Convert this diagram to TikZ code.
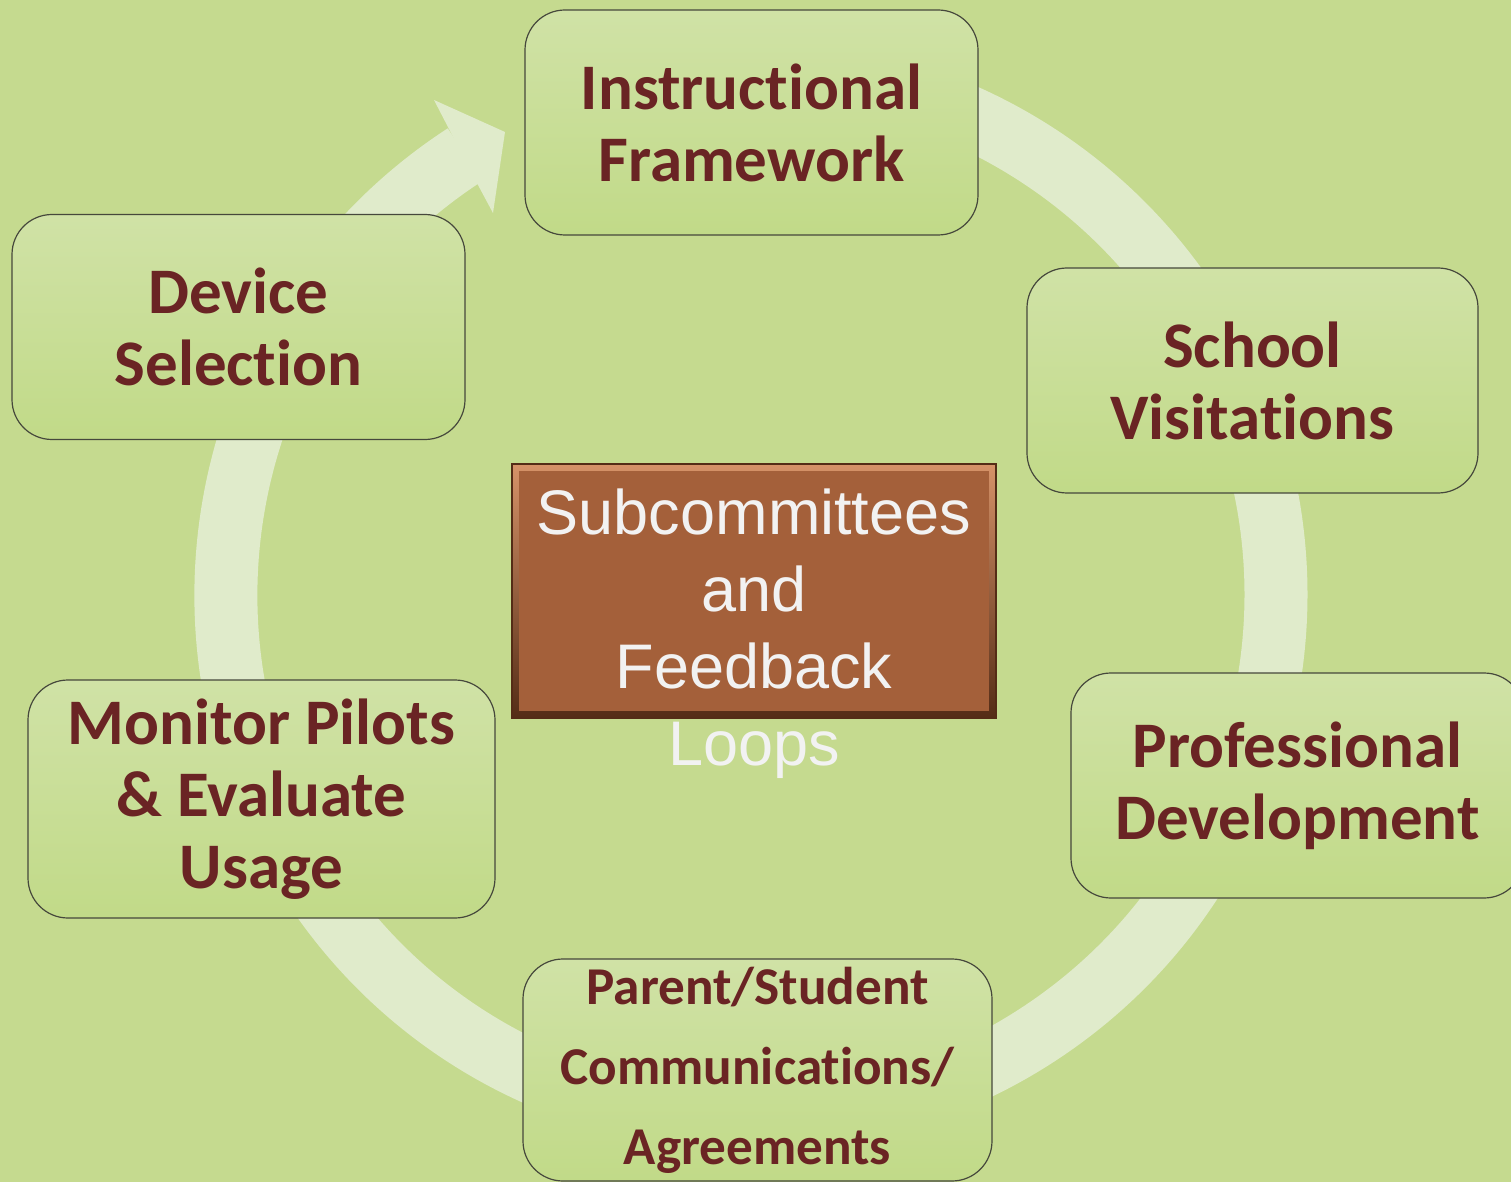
\documentclass[tikz,border=0pt]{standalone}
\usepackage{fontspec}
\setmainfont{Carlito}[Ligatures=NoCommon]
\newfontfamily\arialfont{Liberation Sans}
\usetikzlibrary{positioning}

\definecolor{bggreen}{RGB}{197,218,143}
\definecolor{ringcol}{RGB}{224,235,203}
\definecolor{boxtop}{RGB}{208,226,166}
\definecolor{boxbot}{RGB}{193,218,136}
\definecolor{boxline}{RGB}{70,72,60}
\definecolor{maroon}{RGB}{106,36,36}
\definecolor{hubface}{RGB}{164,96,58}
\definecolor{hubhi}{RGB}{214,146,104}
\definecolor{hublo}{RGB}{84,44,22}

\begin{document}
\begin{tikzpicture}[x=0.5pt,y=0.5pt,yscale=-1,xscale=1,
  stage/.style={draw=boxline, line width=0.6pt, rounded corners=20pt, top color=boxtop, bottom color=boxbot,
    text=maroon, font=\fontsize{32.5}{36}\selectfont\bfseries, align=center, inner sep=0pt,
    minimum width=226.5pt, minimum height=112.5pt},
  hubframe/.style={top color=hubhi, bottom color=hublo, draw=hublo, line width=0.8pt,
    inner sep=0pt, minimum width=242pt, minimum height=127pt},
  hubtop/.style={fill=hubface, inner sep=0pt, minimum width=235pt, minimum height=120pt},
  hubtxt/.style={text=white!95!black, font=\arialfont\fontsize{31.5}{38.5}\selectfont, align=center, inner sep=0pt},
  ring/.style={draw=ringcol, line width=31.5pt}]
\clip (0,0) rectangle (1511,1182);
%background
\fill[bggreen] (0,0) rectangle (1511,1182);

%Ring with arrow
\draw[ring] (465,154.7) arc[start angle=-123, end angle=-450, radius=525];
\fill[ringcol] (449,129) -- (434,100) -- (505,132) -- (493,213) -- (478,185) -- cycle;

% Stage nodes
\node (frame) [stage] at (751.5,122.5) {Instructional\\Framework};
\node (device) [stage] at (238.5,327) {Device\\Selection};
\node (visits) [stage, minimum width=225.5pt] at (1252.5,380.5) {School\\Visitations};
\node (profdev) [stage] at (1297.5,785.5) {Professional\\Development};
\node (monitor) [stage, minimum width=233.5pt, minimum height=119pt] at (261.5,799) {Monitor Pilots\\\& Evaluate\\Usage};
\node (parents) [stage, minimum width=234.5pt, minimum height=111pt, font=\fontsize{26.6}{40}\selectfont\bfseries] at (757.5,1070) {Parent/Student\\Communications/\\Agreements};

% Hub
\node (hub) [hubframe] at (754,591) {};
\node (hubface) [hubtop] at (754,590.5) {};
\node (hubtext) [hubtxt] at (754,634) {Subcommittees\\and\\Feedback\\Loops};

\end{tikzpicture}
\end{document}
